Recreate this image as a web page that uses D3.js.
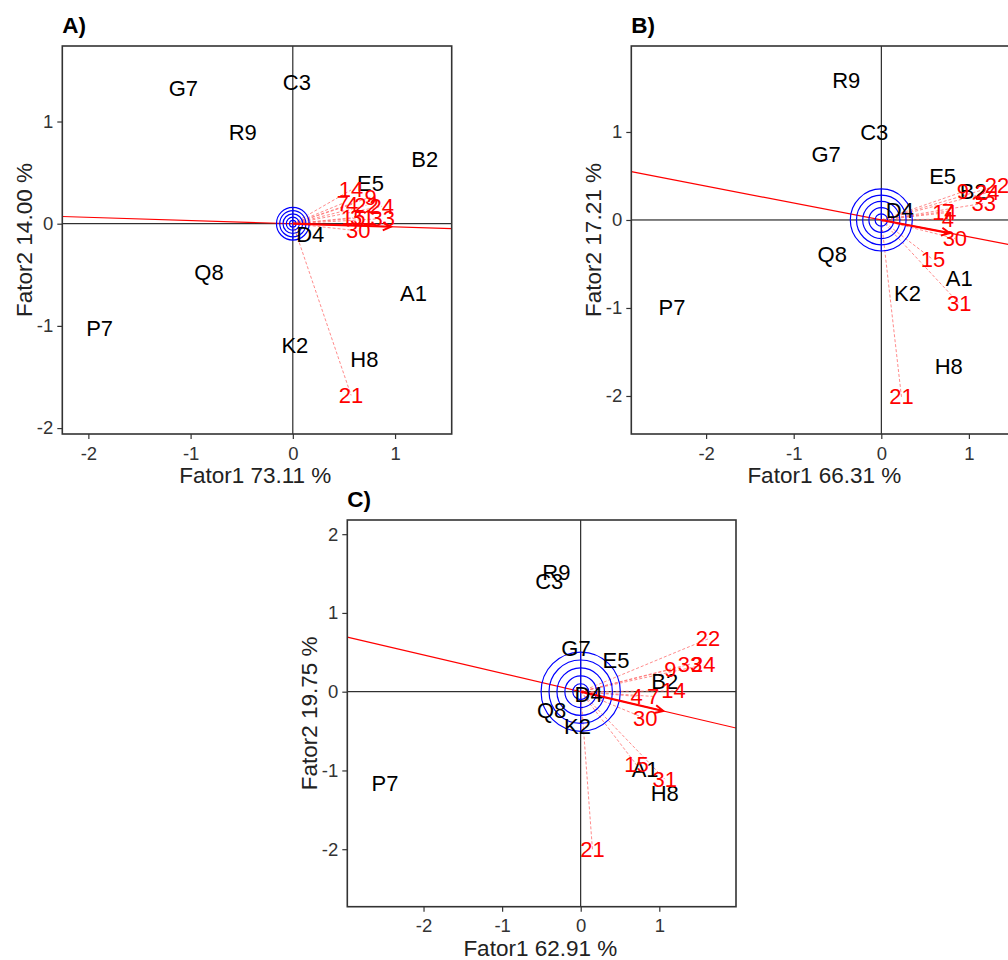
<!DOCTYPE html>
<html>
<head>
<meta charset="utf-8">
<script src="https://cdn.jsdelivr.net/npm/d3@7"></script>
<style>
  html, body { margin: 0; padding: 0; background: #fff; overflow: hidden; }
  svg { display: block; font-family: "Liberation Sans", Arial, sans-serif; }
</style>
</head>
<body>
<svg id="chart" width="1008" height="960"></svg>
<script>
// Genotypes (black labels) and environments (red labels), same order in every panel
const genotypes = ["A1", "B2", "C3", "D4", "E5", "G7", "H8", "K2", "P7", "Q8", "R9"];
const environments = ["4", "7", "9", "14", "15", "21", "22", "24", "30", "31", "33"];

// Panel A scores
const genoA_x = [1.18, 1.29, 0.04, 0.17, 0.76, -1.07, 0.70, 0.02, -1.89, -0.82, -0.49];
const genoA_y = [-0.68, 0.63, 1.38, -0.11, 0.39, 1.32, -1.33, -1.19, -1.03, -0.48, 0.89];
const envA_x = [0.58, 0.49, 0.76, 0.57, 0.59, 0.57, 0.72, 0.87, 0.64, 0.68, 0.88];
const envA_y = [0.19, 0.20, 0.26, 0.33, 0.06, -1.68, 0.18, 0.17, -0.07, 0.06, 0.05];

// Panel B scores
const genoB_x = [0.89, 1.05, -0.08, 0.21, 0.70, -0.63, 0.77, 0.30, -2.39, -0.56, -0.40];
const genoB_y = [-0.67, 0.32, 0.99, 0.11, 0.49, 0.74, -1.66, -0.83, -0.99, -0.39, 1.58];
const envB_x = [0.76, 0.76, 0.93, 0.72, 0.59, 0.23, 1.32, 1.21, 0.84, 0.89, 1.17];
const envB_y = [0.01, 0.10, 0.32, 0.08, -0.45, -2.01, 0.39, 0.31, -0.21, -0.95, 0.19];

// Panel C scores
const genoC_x = [0.82, 1.07, -0.40, 0.10, 0.45, -0.06, 1.07, -0.04, -2.49, -0.37, -0.31];
const genoC_y = [-0.99, 0.13, 1.40, -0.04, 0.40, 0.55, -1.29, -0.44, -1.16, -0.24, 1.51];
const envC_x = [0.71, 0.92, 1.14, 1.18, 0.71, 0.15, 1.62, 1.56, 0.82, 1.07, 1.39];
const envC_y = [-0.06, -0.06, 0.28, 0.01, -0.93, -2.01, 0.67, 0.34, -0.34, -1.11, 0.35];

// Average-environment coordinates (arrow tips) per panel
const avgEnv_x = [0.96, 0.78, 1.05];
const avgEnv_y = [-0.03, -0.15, -0.245];

// Outer radius of the concentric circles per panel
const ringRadius = [0.16, 0.354, 0.504];

// Panel titles and percentage of variance explained
const panelTitles = ["A)", "B)", "C)"];
const pcLabels1 = ["Fator1 73.11 %", "Fator1 66.31 %", "Fator1 62.91 %"];
const pcLabels2 = ["Fator2 14.00 %", "Fator2 17.21 %", "Fator2 19.75 %"];

// Tick values per panel
const xTicks = [[-2, -1, 0, 1], [-2, -1, 0, 1], [-2, -1, 0, 1]];
const yTicks = [[-2, -1, 0, 1], [-2, -1, 0, 1], [-2, -1, 0, 1, 2]];

const panels = [
  { gx: genoA_x, gy: genoA_y, ex: envA_x, ey: envA_y,
    xDom: [-2.255, 1.554], yDom: [-2.058, 1.739],
    box: { l: 62.3, t: 46, r: 451.7, b: 434 } },
  { gx: genoB_x, gy: genoB_y, ex: envB_x, ey: envB_y,
    xDom: [-2.854, 1.58], yDom: [-2.432, 1.977],
    box: { l: 631.3, t: 46, r: 1019.7, b: 434 } },
  { gx: genoC_x, gy: genoC_y, ex: envC_x, ey: envC_y,
    xDom: [-2.97, 1.976], yDom: [-2.73, 2.18],
    box: { l: 347.3, t: 520, r: 736, b: 906.7 } }
];

const svg = d3.select("#chart");
const defs = svg.append("defs");

panels.forEach((p, i) => {
  const { l, t, r, b } = p.box;
  const x = d3.scaleLinear().domain(p.xDom).range([l, r]);
  const y = d3.scaleLinear().domain(p.yDom).range([b, t]);
  const g = svg.append("g").attr("class", "panel panel-" + i);

  defs.append("clipPath").attr("id", "clip" + i)
    .append("rect").attr("x", l).attr("y", t).attr("width", r - l).attr("height", b - t);

  const plot = g.append("g").attr("clip-path", `url(#clip${i})`);

  // Zero reference lines
  plot.append("line")
    .attr("x1", l).attr("x2", r).attr("y1", y(0)).attr("y2", y(0))
    .attr("stroke", "#000").attr("stroke-width", 1);
  plot.append("line")
    .attr("x1", x(0)).attr("x2", x(0)).attr("y1", t).attr("y2", b)
    .attr("stroke", "#000").attr("stroke-width", 1);

  // Average-environment axis through the origin
  const slope = avgEnv_y[i] / avgEnv_x[i];
  plot.append("line")
    .attr("x1", x(p.xDom[0])).attr("y1", y(slope * p.xDom[0]))
    .attr("x2", x(p.xDom[1])).attr("y2", y(slope * p.xDom[1]))
    .attr("stroke", "#ff0000").attr("stroke-width", 1.2);

  // Dashed vectors from the origin to each environment
  plot.selectAll("line.envvec").data(environments).enter().append("line")
    .attr("class", "envvec")
    .attr("x1", x(0)).attr("y1", y(0))
    .attr("x2", (d, k) => x(p.ex[k])).attr("y2", (d, k) => y(p.ey[k]))
    .attr("stroke", "#ff7070").attr("stroke-width", 1)
    .attr("stroke-dasharray", "3,2").attr("opacity", 0.8);

  // Concentric circles around the origin
  const rings = d3.range(1, 6).map(k => ringRadius[i] * k / 5);
  const pxPerUnit = x(1) - x(0);
  plot.selectAll("circle.ring").data(rings).enter().append("circle")
    .attr("class", "ring")
    .attr("cx", x(0)).attr("cy", y(0))
    .attr("r", d => d * pxPerUnit)
    .attr("fill", "none").attr("stroke", "#0000ff").attr("stroke-width", 1.2);
  plot.append("line")
    .attr("x1", x(0)).attr("x2", x(0))
    .attr("y1", y(ringRadius[i])).attr("y2", y(-ringRadius[i]))
    .attr("stroke", "#0000ff").attr("stroke-width", 1.1);

  // Arrow to the average environment
  const ax = x(avgEnv_x[i]), ay = y(avgEnv_y[i]);
  const x0 = x(0), y0 = y(0);
  plot.append("line")
    .attr("x1", x0).attr("y1", y0).attr("x2", ax).attr("y2", ay)
    .attr("stroke", "#ff0000").attr("stroke-width", 2.2);
  const ang = Math.atan2(ay - y0, ax - x0);
  const hl = 9, ha = Math.PI / 7;
  const head = d3.path();
  head.moveTo(ax - hl * Math.cos(ang - ha), ay - hl * Math.sin(ang - ha));
  head.lineTo(ax, ay);
  head.lineTo(ax - hl * Math.cos(ang + ha), ay - hl * Math.sin(ang + ha));
  plot.append("path").attr("d", head.toString())
    .attr("fill", "none").attr("stroke", "#ff0000").attr("stroke-width", 2);

  // Genotype labels
  plot.selectAll("text.geno").data(genotypes).enter().append("text")
    .attr("class", "geno")
    .attr("x", (d, k) => x(p.gx[k])).attr("y", (d, k) => y(p.gy[k]))
    .attr("text-anchor", "middle").attr("dominant-baseline", "central")
    .attr("font-size", 22).attr("fill", "#000")
    .text(d => d);

  // Environment labels
  plot.selectAll("text.env").data(environments).enter().append("text")
    .attr("class", "env")
    .attr("x", (d, k) => x(p.ex[k])).attr("y", (d, k) => y(p.ey[k]))
    .attr("text-anchor", "middle").attr("dominant-baseline", "central")
    .attr("font-size", 22).attr("fill", "#ff0000")
    .text(d => d);

  // Frame
  g.append("rect")
    .attr("x", l).attr("y", t).attr("width", r - l).attr("height", b - t)
    .attr("fill", "none").attr("stroke", "#333").attr("stroke-width", 1.6);

  // Axes
  const xAxis = g.append("g").attr("transform", `translate(0,${b})`)
    .call(d3.axisBottom(x).tickValues(xTicks[i]).tickSize(5).tickPadding(4)
      .tickFormat(d3.format("d")));
  const yAxis = g.append("g").attr("transform", `translate(${l},0)`)
    .call(d3.axisLeft(y).tickValues(yTicks[i]).tickSize(5).tickPadding(4)
      .tickFormat(d3.format("d")));
  [xAxis, yAxis].forEach(ax => {
    ax.select(".domain").remove();
    ax.selectAll(".tick line").attr("stroke", "#333").attr("stroke-width", 1.2);
    ax.selectAll(".tick text").attr("fill", "#333").attr("font-size", 18.5)
      .attr("font-family", "Liberation Sans, Arial, sans-serif");
  });
  xAxis.selectAll(".tick text").attr("dy", "0.9em");
  yAxis.selectAll(".tick text").text(d => d < 0 ? "-" + Math.abs(d) : d);
  xAxis.selectAll(".tick text").text(d => d < 0 ? "-" + Math.abs(d) : d);

  // Axis titles
  g.append("text")
    .attr("x", (l + Math.min(r, l + 388)) / 2 - 1).attr("y", b + 49)
    .attr("text-anchor", "middle").attr("font-size", 22.5).attr("fill", "#222")
    .text(pcLabels1[i]);
  g.append("text")
    .attr("transform", `translate(${l - 30},${(t + b) / 2}) rotate(-90)`)
    .attr("text-anchor", "middle").attr("font-size", 22.5).attr("fill", "#222")
    .text(pcLabels2[i]);

  // Panel title
  g.append("text")
    .attr("x", l).attr("y", t - 13)
    .attr("font-size", 22.5).attr("font-weight", "bold").attr("fill", "#000")
    .text(panelTitles[i]);
});
</script>
</body>
</html>
